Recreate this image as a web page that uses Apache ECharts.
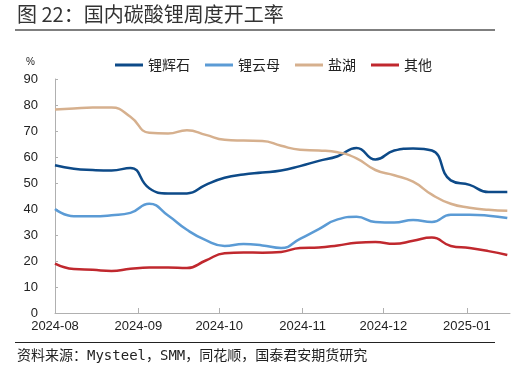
<!DOCTYPE html>
<html><head><meta charset="utf-8">
<script src="https://cdn.jsdelivr.net/npm/echarts@6/dist/echarts.min.js"></script>
<style>html,body{margin:0;padding:0;background:#fff;}#c{width:515px;height:384px;}</style>
</head><body><div id="c"></div>
<script>
const dates = ['2024-08-01','2024-08-08','2024-08-15','2024-08-22','2024-08-29','2024-09-05','2024-09-12','2024-09-19','2024-09-26','2024-10-03','2024-10-10','2024-10-17','2024-10-24','2024-10-31','2024-11-07','2024-11-14','2024-11-21','2024-11-28','2024-12-05','2024-12-12','2024-12-19','2024-12-26','2025-01-02','2025-01-09','2025-01-16'];
const spodumene = [56.8,55.5,55.0,54.8,55.8,48.0,46.0,46.0,49.3,52.0,53.3,54.0,54.8,56.5,58.5,60.3,63.5,59.0,62.5,63.3,62.5,51.0,49.3,46.5,46.5];
const lepidolite = [40.0,37.2,37.2,37.6,38.5,42.0,37.5,32.0,28.0,25.8,26.5,26.0,25.0,28.5,32.3,36.0,37.0,35.0,34.8,35.8,35.0,37.8,37.8,37.4,36.5];
const saltLake = [78.3,78.7,79.0,79.0,75.5,69.3,69.0,70.3,68.5,66.6,66.3,66.2,64.3,62.8,62.5,61.8,59.5,55.0,53.0,50.5,45.5,42.0,40.5,39.7,39.3];
const others = [19.0,16.9,16.6,16.2,17.0,17.5,17.5,17.3,20.2,23.0,23.3,23.2,23.5,25.0,25.2,26.0,27.0,27.3,26.6,27.8,29.0,25.8,25.0,23.8,22.3];
const seriesNames = ['锂辉石','锂云母','盐湖','其他'];
const yTicks = {min:0, max:90, interval:10};

const colors = ['#0d4a88','#5b9bd5','#d6b08e','#c0282e'];
const vals = [spodumene, lepidolite, saltLake, others];
const chart = echarts.init(document.getElementById('c'));
const DAY = 86400000;
chart.setOption({
  animation:false,
  color: colors,
  grid:{left:55,right:5,top:79,bottom:71,containLabel:false},
  legend:{
    left:110, top:53, itemWidth:28, itemHeight:3, itemGap:15, icon:'rect',
    textStyle:{fontSize:14,color:'#222',fontFamily:'Noto Sans CJK SC'},
    data: seriesNames
  },
  xAxis:{
    type:'time', min:'2024-08-01', max:'2025-01-17',
    minInterval:28*DAY, maxInterval:31*DAY,
    axisLine:{lineStyle:{color:'#b0b0b0',width:1}},
    axisTick:{show:true,inside:true,length:5,lineStyle:{color:'#b0b0b0'}},
    splitLine:{show:false},
    axisLabel:{formatter:'{yyyy}-{MM}',fontSize:13,color:'#222',fontFamily:'Liberation Sans',margin:7,hideOverlap:false}
  },
  yAxis:{
    type:'value', min:yTicks.min, max:yTicks.max, interval:yTicks.interval,
    name:'%', nameLocation:'end', nameGap:12,
    nameTextStyle:{fontSize:10,color:'#222',align:'right',padding:[0,20,0,0]},
    axisLine:{show:true,lineStyle:{color:'#b0b0b0',width:1}},
    axisTick:{show:true,inside:true,length:3,lineStyle:{color:'#b0b0b0'}},
    splitLine:{show:false},
    axisLabel:{fontSize:13,color:'#222',fontFamily:'Liberation Sans',margin:17}
  },
  series: seriesNames.map((n,i)=>({
    name:n, type:'line', smooth:0.5, showSymbol:false, symbol:'none',
    lineStyle:{width:2.5,color:colors[i]},
    data: dates.map((d,j)=>[d, vals[i][j]])
  })),
  graphic:[
    {type:'text',left:17,top:4,style:{text:'图 22：国内碳酸锂周度开工率',font:'20px "Noto Sans CJK SC"',fill:'#333'}},
    {type:'line',shape:{x1:15,y1:30,x2:495,y2:30},style:{stroke:'#7f7f7f',lineWidth:2}},
    {type:'line',shape:{x1:15,y1:342.5,x2:495,y2:342.5},style:{stroke:'#222',lineWidth:1}},
    {type:'text',left:17,top:349,style:{text:'资料来源：Mysteel，SMM，同花顺，国泰君安期货研究',font:'14px "DejaVu Sans Mono","Noto Sans CJK SC"',fill:'#222'}}
  ]
});
</script></body></html>
